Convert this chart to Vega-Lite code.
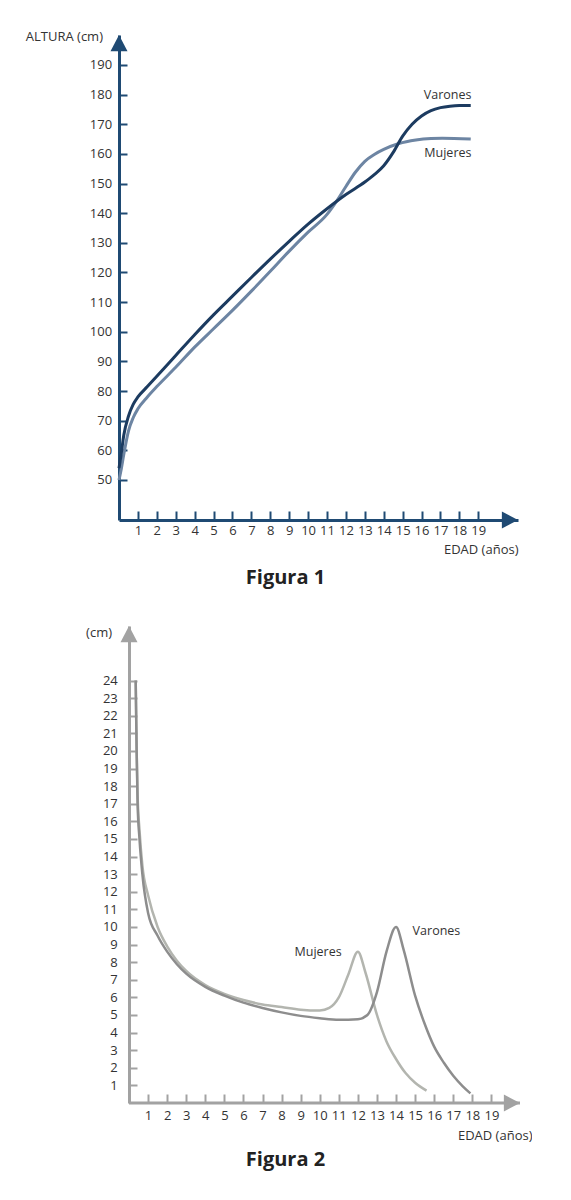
{
  "$schema": "https://vega.github.io/schema/vega-lite/v6.json",
  "description": "Figura 1: altura por edad; Figura 2: velocidad de crecimiento por edad",
  "background": "white",
  "padding": {"left": 25, "top": 31, "right": 0, "bottom": 20},
  "spacing": 38,
  "resolve": {"scale": {"color": "independent"}},
  "config": {
    "view": {"stroke": null},
    "font": "Open Sans",
    "axis": {"grid": false, "labelOverlap": false, "labelFontSize": 13, "labelColor": "#333333", "titleFontSize": 13, "titleFontWeight": "normal", "titleColor": "#333333"}
  },
  "vconcat": [
    {
      "width": 399,
      "height": 485,
      "title": {"text": "Figura 1", "orient": "bottom", "frame": "group", "anchor": "middle", "dx": -33, "offset": 11, "fontSize": 20, "fontWeight": "bold", "color": "#222222"},
      "layer": [
        {
          "data": {
            "values": [
              {"sexo": "Mujeres", "edad": 0, "altura": 50},
              {"sexo": "Mujeres", "edad": 0.1, "altura": 53},
              {"sexo": "Mujeres", "edad": 0.25, "altura": 58.5},
              {"sexo": "Mujeres", "edad": 0.5, "altura": 66.5},
              {"sexo": "Mujeres", "edad": 0.75, "altura": 71},
              {"sexo": "Mujeres", "edad": 1, "altura": 74},
              {"sexo": "Mujeres", "edad": 1.5, "altura": 78},
              {"sexo": "Mujeres", "edad": 2, "altura": 81.5},
              {"sexo": "Mujeres", "edad": 3, "altura": 88},
              {"sexo": "Mujeres", "edad": 4, "altura": 94.8},
              {"sexo": "Mujeres", "edad": 5, "altura": 101},
              {"sexo": "Mujeres", "edad": 6, "altura": 107.2},
              {"sexo": "Mujeres", "edad": 7, "altura": 113.7},
              {"sexo": "Mujeres", "edad": 8, "altura": 120.4},
              {"sexo": "Mujeres", "edad": 9, "altura": 127.2},
              {"sexo": "Mujeres", "edad": 10, "altura": 133.6},
              {"sexo": "Mujeres", "edad": 11, "altura": 139.6},
              {"sexo": "Mujeres", "edad": 11.5, "altura": 144},
              {"sexo": "Mujeres", "edad": 12, "altura": 149},
              {"sexo": "Mujeres", "edad": 12.5, "altura": 153.8},
              {"sexo": "Mujeres", "edad": 13, "altura": 157.5},
              {"sexo": "Mujeres", "edad": 13.5, "altura": 159.8},
              {"sexo": "Mujeres", "edad": 14, "altura": 161.5},
              {"sexo": "Mujeres", "edad": 14.8, "altura": 163.5},
              {"sexo": "Mujeres", "edad": 15.7, "altura": 164.7},
              {"sexo": "Mujeres", "edad": 16.5, "altura": 165.2},
              {"sexo": "Mujeres", "edad": 17.1, "altura": 165.3},
              {"sexo": "Mujeres", "edad": 18.6, "altura": 165},
              {"sexo": "Varones", "edad": 0, "altura": 54},
              {"sexo": "Varones", "edad": 0.1, "altura": 58},
              {"sexo": "Varones", "edad": 0.25, "altura": 65},
              {"sexo": "Varones", "edad": 0.5, "altura": 71.5},
              {"sexo": "Varones", "edad": 0.75, "altura": 75.5},
              {"sexo": "Varones", "edad": 1, "altura": 78},
              {"sexo": "Varones", "edad": 1.5, "altura": 81.5},
              {"sexo": "Varones", "edad": 2, "altura": 85},
              {"sexo": "Varones", "edad": 3, "altura": 92},
              {"sexo": "Varones", "edad": 4, "altura": 99},
              {"sexo": "Varones", "edad": 5, "altura": 105.7},
              {"sexo": "Varones", "edad": 6, "altura": 112},
              {"sexo": "Varones", "edad": 7, "altura": 118.3},
              {"sexo": "Varones", "edad": 8, "altura": 124.5},
              {"sexo": "Varones", "edad": 9, "altura": 130.5},
              {"sexo": "Varones", "edad": 10, "altura": 136.3},
              {"sexo": "Varones", "edad": 11, "altura": 141.5},
              {"sexo": "Varones", "edad": 12, "altura": 146.3},
              {"sexo": "Varones", "edad": 13, "altura": 150.5},
              {"sexo": "Varones", "edad": 13.5, "altura": 153},
              {"sexo": "Varones", "edad": 14, "altura": 156},
              {"sexo": "Varones", "edad": 14.5, "altura": 160.5},
              {"sexo": "Varones", "edad": 15, "altura": 166},
              {"sexo": "Varones", "edad": 15.5, "altura": 170},
              {"sexo": "Varones", "edad": 16, "altura": 172.8},
              {"sexo": "Varones", "edad": 16.5, "altura": 174.6},
              {"sexo": "Varones", "edad": 17, "altura": 175.6},
              {"sexo": "Varones", "edad": 17.5, "altura": 176.1},
              {"sexo": "Varones", "edad": 18, "altura": 176.3},
              {"sexo": "Varones", "edad": 18.6, "altura": 176.3}
            ]
          },
          "mark": {"type": "line", "interpolate": "monotone", "strokeWidth": 3},
          "encoding": {
            "x": {
              "field": "edad", "type": "quantitative",
              "scale": {"domain": [0, 21.1], "nice": false, "zero": false},
              "axis": {
                "values": [1, 2, 3, 4, 5, 6, 7, 8, 9, 10, 11, 12, 13, 14, 15, 16, 17, 18, 19],
                "tickCount": 40, "format": "d", "labelOverlap": false, "tickSize": -9, "tickWidth": 2, "tickColor": "#1f4a73",
                "domainColor": "#1f4a73", "domainWidth": 3, "labelPadding": 13.5,
                "title": "EDAD (años)", "titleAnchor": "end", "titlePadding": 6
              }
            },
            "y": {
              "field": "altura", "type": "quantitative",
              "scale": {"domain": [36.5, 200.1], "nice": false, "zero": false},
              "axis": {
                "values": [50, 60, 70, 80, 90, 100, 110, 120, 130, 140, 150, 160, 170, 180, 190],
                "tickCount": 40, "format": "d", "labelOverlap": false, "tickSize": -8, "tickWidth": 2, "tickColor": "#1f4a73",
                "domainColor": "#1f4a73", "domainWidth": 3, "labelPadding": 15.4,
                "title": null
              }
            },
            "color": {
              "field": "sexo", "type": "nominal",
              "scale": {"domain": ["Varones", "Mujeres"], "range": ["#1c3b60", "#6d85a3"]},
              "legend": null
            }
          }
        },
        {
          "data": {"values": [{}]},
          "mark": {"type": "point", "shape": "M0,0L1,1.9L-1,1.9Z", "filled": true, "size": 289, "opacity": 1, "color": "#1f4a73"},
          "encoding": {"x": {"datum": 0}, "y": {"datum": 200.1}}
        },
        {
          "data": {"values": [{}]},
          "mark": {"type": "point", "shape": "M0,0L-1.9,-1L-1.9,1Z", "filled": true, "size": 289, "opacity": 1, "color": "#1f4a73"},
          "encoding": {"x": {"datum": 21.1}, "y": {"datum": 36.5}}
        },
        {
          "data": {"values": [{}]},
          "mark": {"type": "text", "text": "ALTURA (cm)", "align": "right", "baseline": "middle", "dx": -16, "fontSize": 13, "color": "#333333"},
          "encoding": {"x": {"datum": 0}, "y": {"datum": 199.3}}
        },
        {
          "data": {"values": [{}]},
          "mark": {"type": "text", "text": "Varones", "align": "right", "baseline": "middle", "fontSize": 12.5, "color": "#333333"},
          "encoding": {"x": {"datum": 18.64}, "y": {"datum": 179.9}}
        },
        {
          "data": {"values": [{}]},
          "mark": {"type": "text", "text": "Mujeres", "align": "right", "baseline": "middle", "fontSize": 12.5, "color": "#333333"},
          "encoding": {"x": {"datum": 18.64}, "y": {"datum": 160.3}}
        }
      ]
    },
    {
      "width": 401,
      "height": 477,
      "title": {"text": "Figura 2", "orient": "bottom", "frame": "group", "anchor": "middle", "dx": -34, "offset": 8, "fontSize": 20, "fontWeight": "bold", "color": "#222222"},
      "layer": [
        {
          "data": {"values": [{}]},
          "mark": {"type": "rule", "strokeWidth": 3, "color": "#a2a2a2"},
          "encoding": {"x": {"datum": 0}, "x2": {"datum": 20.5}, "y": {"datum": 0}}
        },
        {
          "data": {
            "values": [
              {"sexo": "Mujeres", "edad": 0.35, "velocidad": 24},
              {"sexo": "Mujeres", "edad": 0.4, "velocidad": 20},
              {"sexo": "Mujeres", "edad": 0.45, "velocidad": 17.5},
              {"sexo": "Mujeres", "edad": 0.55, "velocidad": 15.5},
              {"sexo": "Mujeres", "edad": 0.7, "velocidad": 13.5},
              {"sexo": "Mujeres", "edad": 1, "velocidad": 11.8},
              {"sexo": "Mujeres", "edad": 1.5, "velocidad": 10},
              {"sexo": "Mujeres", "edad": 2, "velocidad": 8.9},
              {"sexo": "Mujeres", "edad": 2.5, "velocidad": 8.1},
              {"sexo": "Mujeres", "edad": 3, "velocidad": 7.5},
              {"sexo": "Mujeres", "edad": 4, "velocidad": 6.7},
              {"sexo": "Mujeres", "edad": 5, "velocidad": 6.2},
              {"sexo": "Mujeres", "edad": 6, "velocidad": 5.85},
              {"sexo": "Mujeres", "edad": 7, "velocidad": 5.6},
              {"sexo": "Mujeres", "edad": 8, "velocidad": 5.45},
              {"sexo": "Mujeres", "edad": 9, "velocidad": 5.3},
              {"sexo": "Mujeres", "edad": 10, "velocidad": 5.25},
              {"sexo": "Mujeres", "edad": 10.5, "velocidad": 5.4},
              {"sexo": "Mujeres", "edad": 11, "velocidad": 6},
              {"sexo": "Mujeres", "edad": 11.5, "velocidad": 7.3},
              {"sexo": "Mujeres", "edad": 12, "velocidad": 8.6},
              {"sexo": "Mujeres", "edad": 12.4, "velocidad": 7.4},
              {"sexo": "Mujeres", "edad": 13, "velocidad": 5},
              {"sexo": "Mujeres", "edad": 13.5, "velocidad": 3.5},
              {"sexo": "Mujeres", "edad": 14, "velocidad": 2.5},
              {"sexo": "Mujeres", "edad": 14.5, "velocidad": 1.7},
              {"sexo": "Mujeres", "edad": 15, "velocidad": 1.15},
              {"sexo": "Mujeres", "edad": 15.6, "velocidad": 0.7},
              {"sexo": "Varones", "edad": 0.35, "velocidad": 24},
              {"sexo": "Varones", "edad": 0.4, "velocidad": 20},
              {"sexo": "Varones", "edad": 0.45, "velocidad": 17},
              {"sexo": "Varones", "edad": 0.55, "velocidad": 15},
              {"sexo": "Varones", "edad": 0.7, "velocidad": 13},
              {"sexo": "Varones", "edad": 1, "velocidad": 10.8},
              {"sexo": "Varones", "edad": 1.5, "velocidad": 9.5},
              {"sexo": "Varones", "edad": 2, "velocidad": 8.6},
              {"sexo": "Varones", "edad": 2.5, "velocidad": 7.9},
              {"sexo": "Varones", "edad": 3, "velocidad": 7.35},
              {"sexo": "Varones", "edad": 4, "velocidad": 6.6},
              {"sexo": "Varones", "edad": 5, "velocidad": 6.1},
              {"sexo": "Varones", "edad": 6, "velocidad": 5.7},
              {"sexo": "Varones", "edad": 7, "velocidad": 5.4},
              {"sexo": "Varones", "edad": 8, "velocidad": 5.15},
              {"sexo": "Varones", "edad": 9, "velocidad": 4.95},
              {"sexo": "Varones", "edad": 10, "velocidad": 4.82},
              {"sexo": "Varones", "edad": 11, "velocidad": 4.73},
              {"sexo": "Varones", "edad": 12, "velocidad": 4.76},
              {"sexo": "Varones", "edad": 12.5, "velocidad": 5},
              {"sexo": "Varones", "edad": 13, "velocidad": 6.3},
              {"sexo": "Varones", "edad": 13.5, "velocidad": 8.6},
              {"sexo": "Varones", "edad": 14, "velocidad": 10},
              {"sexo": "Varones", "edad": 14.4, "velocidad": 8.7},
              {"sexo": "Varones", "edad": 15, "velocidad": 6.1},
              {"sexo": "Varones", "edad": 15.5, "velocidad": 4.5},
              {"sexo": "Varones", "edad": 16, "velocidad": 3.2},
              {"sexo": "Varones", "edad": 16.5, "velocidad": 2.3},
              {"sexo": "Varones", "edad": 17, "velocidad": 1.55},
              {"sexo": "Varones", "edad": 17.5, "velocidad": 0.95},
              {"sexo": "Varones", "edad": 17.9, "velocidad": 0.55}
            ]
          },
          "mark": {"type": "line", "interpolate": "monotone", "strokeWidth": 2.5},
          "encoding": {
            "x": {
              "field": "edad", "type": "quantitative",
              "scale": {"domain": [-0.525, 20.5], "nice": false, "zero": false},
              "axis": {
                "values": [1, 2, 3, 4, 5, 6, 7, 8, 9, 10, 11, 12, 13, 14, 15, 16, 17, 18, 19],
                "tickCount": 40, "format": "d", "labelOverlap": false, "domain": false, "tickSize": -9, "tickWidth": 2, "tickColor": "#a2a2a2",
                "labelPadding": 15,
                "title": "EDAD (años)", "titleAnchor": "end", "titleAlign": "right", "titleX": 413, "titlePadding": 7
              }
            },
            "y": {
              "field": "velocidad", "type": "quantitative",
              "scale": {"domain": [0, 27.1], "nice": false, "zero": false},
              "axis": {
                "values": [1, 2, 3, 4, 5, 6, 7, 8, 9, 10, 11, 12, 13, 14, 15, 16, 17, 18, 19, 20, 21, 22, 23, 24],
                "tickCount": 40, "format": "d", "labelOverlap": false, "offset": -10, "tickSize": -8, "tickWidth": 2, "tickColor": "#a2a2a2",
                "domainColor": "#a2a2a2", "domainWidth": 3, "labelPadding": 19.7,
                "title": null
              }
            },
            "color": {
              "field": "sexo", "type": "nominal",
              "scale": {"domain": ["Varones", "Mujeres"], "range": ["#8d8d8d", "#b3b5af"]},
              "legend": null
            }
          }
        },
        {
          "data": {"values": [{}]},
          "mark": {"type": "point", "shape": "M0,0L1,1.9L-1,1.9Z", "filled": true, "size": 289, "opacity": 1, "color": "#a2a2a2"},
          "encoding": {"x": {"datum": 0}, "y": {"datum": 27.1}}
        },
        {
          "data": {"values": [{}]},
          "mark": {"type": "point", "shape": "M0,0L-1.9,-1L-1.9,1Z", "filled": true, "size": 289, "opacity": 1, "color": "#a2a2a2"},
          "encoding": {"x": {"datum": 20.5}, "y": {"datum": 0}}
        },
        {
          "data": {"values": [{}]},
          "mark": {"type": "text", "text": "(cm)", "align": "right", "baseline": "middle", "dx": -17, "fontSize": 13, "color": "#333333"},
          "encoding": {"x": {"datum": 0}, "y": {"datum": 26.7}}
        },
        {
          "data": {"values": [{}]},
          "mark": {"type": "text", "text": "Mujeres", "align": "right", "baseline": "middle", "fontSize": 12.5, "color": "#333333"},
          "encoding": {"x": {"datum": 11.15}, "y": {"datum": 8.56}}
        },
        {
          "data": {"values": [{}]},
          "mark": {"type": "text", "text": "Varones", "align": "left", "baseline": "middle", "fontSize": 12.5, "color": "#333333"},
          "encoding": {"x": {"datum": 14.87}, "y": {"datum": 9.75}}
        }
      ]
    }
  ]
}
